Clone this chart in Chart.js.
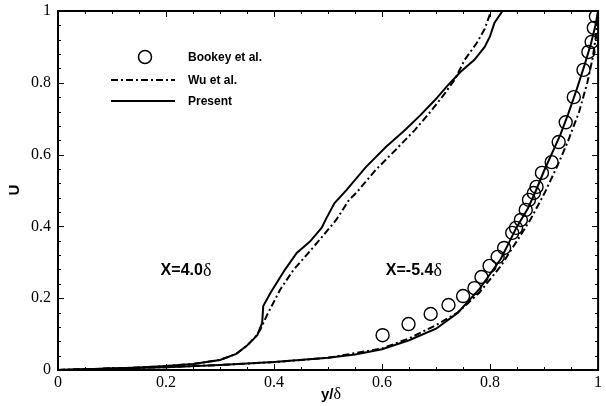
<!DOCTYPE html>
<html>
<head>
<meta charset="utf-8">
<script src="https://cdn.jsdelivr.net/npm/chart.js@4/dist/chart.umd.min.js"></script>
<style>
  html, body { margin: 0; padding: 0; background: #fff; }
  canvas { display: block; }
</style>
</head>
<body>
<canvas id="profileChart" width="606" height="406"></canvas>
<script>
// 速度プロファイル (X=4.0δ / X=-5.4δ)
const xTicks = [0, 0.2, 0.4, 0.6, 0.8, 1];
const yTicks = [0, 0.2, 0.4, 0.6, 0.8, 1];
const xTickLabels = ["0", "0.2", "0.4", "0.6", "0.8", "1"];
const yTickLabels = ["0", "0.2", "0.4", "0.6", "0.8", "1"];

// Bookey et al. 実験値
const bookeyY = [0.601, 0.649, 0.690, 0.723, 0.750, 0.771, 0.784, 0.799, 0.814, 0.826, 0.841, 0.848, 0.857, 0.866, 0.872, 0.881, 0.886, 0.896, 0.914, 0.927, 0.940, 0.955, 0.973, 0.982, 0.988, 0.992, 0.996];
const bookeyU = [0.097, 0.128, 0.156, 0.181, 0.206, 0.228, 0.259, 0.290, 0.315, 0.340, 0.382, 0.396, 0.418, 0.446, 0.474, 0.493, 0.510, 0.549, 0.579, 0.635, 0.690, 0.760, 0.836, 0.886, 0.914, 0.953, 0.985];

// X=4.0δ
const wu40Y = [0, 0.05, 0.10, 0.15, 0.20, 0.25, 0.30, 0.33, 0.35, 0.365, 0.374, 0.387, 0.411, 0.436, 0.460, 0.484, 0.515, 0.539, 0.552, 0.588, 0.625, 0.661, 0.690, 0.716, 0.735, 0.753, 0.775, 0.790, 0.802];
const wu40U = [0, 0.002, 0.004, 0.007, 0.011, 0.017, 0.028, 0.045, 0.068, 0.092, 0.111, 0.153, 0.223, 0.279, 0.320, 0.362, 0.418, 0.474, 0.493, 0.557, 0.613, 0.669, 0.720, 0.770, 0.810, 0.864, 0.910, 0.950, 1.0];
const present40Y = [0, 0.05, 0.10, 0.15, 0.20, 0.25, 0.30, 0.33, 0.35, 0.369, 0.378, 0.380, 0.393, 0.420, 0.442, 0.466, 0.488, 0.497, 0.512, 0.534, 0.570, 0.607, 0.643, 0.671, 0.698, 0.720, 0.745, 0.771, 0.790, 0.800, 0.808, 0.823];
const present40U = [0, 0.002, 0.004, 0.007, 0.011, 0.017, 0.028, 0.045, 0.068, 0.097, 0.131, 0.178, 0.214, 0.279, 0.326, 0.357, 0.396, 0.423, 0.465, 0.501, 0.565, 0.621, 0.669, 0.710, 0.752, 0.790, 0.830, 0.864, 0.900, 0.930, 0.967, 1.0];

// X=-5.4δ
const wu54Y = [0, 0.1, 0.2, 0.3, 0.4, 0.5, 0.6, 0.65, 0.70, 0.74, 0.78, 0.82, 0.85, 0.875, 0.90, 0.925, 0.945, 0.965, 0.98, 0.99, 0.996, 1.0];
const wu54U = [0, 0.004, 0.008, 0.014, 0.022, 0.034, 0.060, 0.088, 0.125, 0.160, 0.215, 0.290, 0.360, 0.420, 0.490, 0.570, 0.640, 0.720, 0.800, 0.870, 0.930, 1.0];
const present54Y = [0, 0.1, 0.2, 0.3, 0.4, 0.5, 0.55, 0.6, 0.65, 0.70, 0.74, 0.78, 0.82, 0.85, 0.87, 0.885, 0.90, 0.915, 0.93, 0.945, 0.96, 0.975, 0.987, 0.995, 1.0];
const present54U = [0, 0.004, 0.008, 0.014, 0.022, 0.034, 0.043, 0.058, 0.083, 0.115, 0.159, 0.225, 0.310, 0.400, 0.450, 0.500, 0.555, 0.605, 0.655, 0.715, 0.780, 0.850, 0.910, 0.960, 1.0];

const toPoints = (xs, ys) => xs.map((x, i) => ({ x: x, y: ys[i] }));

const DASH_DOT = [7, 3, 2, 3];
const SANS = "Liberation Sans, Arial, sans-serif";
const SERIF = "Liberation Serif, Times New Roman, serif";

// 軸枠・内向き目盛り・ラベル・凡例・注記を描くプラグイン
const framePlugin = {
    id: "frame",
    afterDraw(chart) {
        const ctx = chart.ctx;
        const xs = chart.scales.x;
        const ys = chart.scales.y;
        const a = chart.chartArea;
        ctx.save();
        ctx.strokeStyle = "#000";
        ctx.fillStyle = "#000";

        // 目盛り (上下左右、内向き)
        ctx.lineWidth = 1;
        ctx.beginPath();
        for (let i = 0; i <= 20; i++) {
            const v = i * 0.05;
            const px = Math.round(xs.getPixelForValue(v)) + 0.5;
            const len = i % 4 === 0 ? 6 : 3;
            ctx.moveTo(px, a.bottom);
            ctx.lineTo(px, a.bottom - len);
            ctx.moveTo(px, a.top);
            ctx.lineTo(px, a.top + len);
        }
        for (let i = 0; i <= 25; i++) {
            const v = i * 0.04;
            const py = Math.round(ys.getPixelForValue(v)) + 0.5;
            const len = i % 5 === 0 ? 6 : 3;
            ctx.moveTo(a.left, py);
            ctx.lineTo(a.left + len, py);
            ctx.moveTo(a.right, py);
            ctx.lineTo(a.right - len, py);
        }
        ctx.stroke();

        // 枠
        ctx.lineWidth = 2;
        ctx.strokeRect(a.left, a.top, a.right - a.left, a.bottom - a.top);

        // 目盛りラベル
        ctx.font = "16px " + SERIF;
        ctx.textAlign = "center";
        ctx.textBaseline = "middle";
        xTicks.forEach((v, i) => {
            ctx.fillText(xTickLabels[i], xs.getPixelForValue(v), a.bottom + 13);
        });
        ctx.textAlign = "right";
        yTicks.forEach((v, i) => {
            ctx.fillText(yTickLabels[i], a.left - 7, ys.getPixelForValue(v));
        });

        // 軸タイトル
        ctx.textAlign = "left";
        ctx.font = "bold 15px " + SANS;
        const yw = ctx.measureText("y/").width;
        ctx.font = "16px " + SERIF;
        const dw = ctx.measureText("δ").width;
        const tx = 331 - (yw + dw) / 2;
        ctx.font = "bold 15px " + SANS;
        ctx.fillText("y/", tx, 395);
        ctx.font = "16px " + SERIF;
        ctx.fillText("δ", tx + yw, 395);

        ctx.save();
        ctx.translate(15, 190);
        ctx.rotate(-Math.PI / 2);
        ctx.textAlign = "center";
        ctx.font = "bold 15px " + SANS;
        ctx.fillText("U", 0, 0);
        ctx.restore();

        // 注記
        const note = (label, xv, yv) => {
            const px = xs.getPixelForValue(xv);
            const py = ys.getPixelForValue(yv);
            ctx.textAlign = "left";
            ctx.font = "bold 16px " + SANS;
            ctx.fillText(label, px, py);
            const w = ctx.measureText(label).width;
            ctx.font = "18px " + SERIF;
            ctx.fillText("δ", px + w, py);
        };
        note("X=4.0", 0.19, 0.276);
        note("X=-5.4", 0.607, 0.276);

        // 凡例
        ctx.font = "bold 12px " + SANS;
        ctx.textAlign = "left";
        ctx.lineWidth = 1.5;
        ctx.beginPath();
        ctx.arc(145, 57, 6.5, 0, Math.PI * 2);
        ctx.stroke();
        ctx.fillText("Bookey et al.", 188, 58);

        ctx.lineWidth = 2;
        ctx.setLineDash(DASH_DOT);
        ctx.beginPath();
        ctx.moveTo(111, 80);
        ctx.lineTo(175, 80);
        ctx.stroke();
        ctx.setLineDash([]);
        ctx.fillText("Wu et al.", 188, 81);

        ctx.beginPath();
        ctx.moveTo(111, 101);
        ctx.lineTo(175, 101);
        ctx.stroke();
        ctx.fillText("Present", 188, 102);

        ctx.restore();
    },
};

const lineStyle = (label, data, dashed) => ({
    label: label,
    data: data,
    showLine: true,
    borderColor: "#000",
    borderWidth: 2,
    borderDash: dashed ? DASH_DOT : [],
    pointRadius: 0,
    tension: 0,
    fill: false,
});

const ctx = document.getElementById("profileChart").getContext("2d");
new Chart(ctx, {
    type: "scatter",
    data: {
        datasets: [
            lineStyle("Present", toPoints(present40Y, present40U), false),
            lineStyle("Wu et al.", toPoints(wu40Y, wu40U), true),
            lineStyle("Present", toPoints(present54Y, present54U), false),
            lineStyle("Wu et al.", toPoints(wu54Y, wu54U), true),
            {
                label: "Bookey et al.",
                data: toPoints(bookeyY, bookeyU),
                showLine: false,
                pointRadius: 6.5,
                pointBorderWidth: 1.4,
                pointBorderColor: "#000",
                pointBackgroundColor: "rgba(0,0,0,0)",
            },
        ],
    },
    options: {
        responsive: false,
        animation: false,
        layout: {
            padding: { left: 58, right: 2, top: 11, bottom: 36 },
        },
        scales: {
            x: { type: "linear", min: 0, max: 1, display: false },
            y: { type: "linear", min: 0, max: 1, display: false },
        },
        plugins: {
            legend: { display: false },
            tooltip: { enabled: false },
        },
    },
    plugins: [framePlugin],
});
</script>
</body>
</html>
